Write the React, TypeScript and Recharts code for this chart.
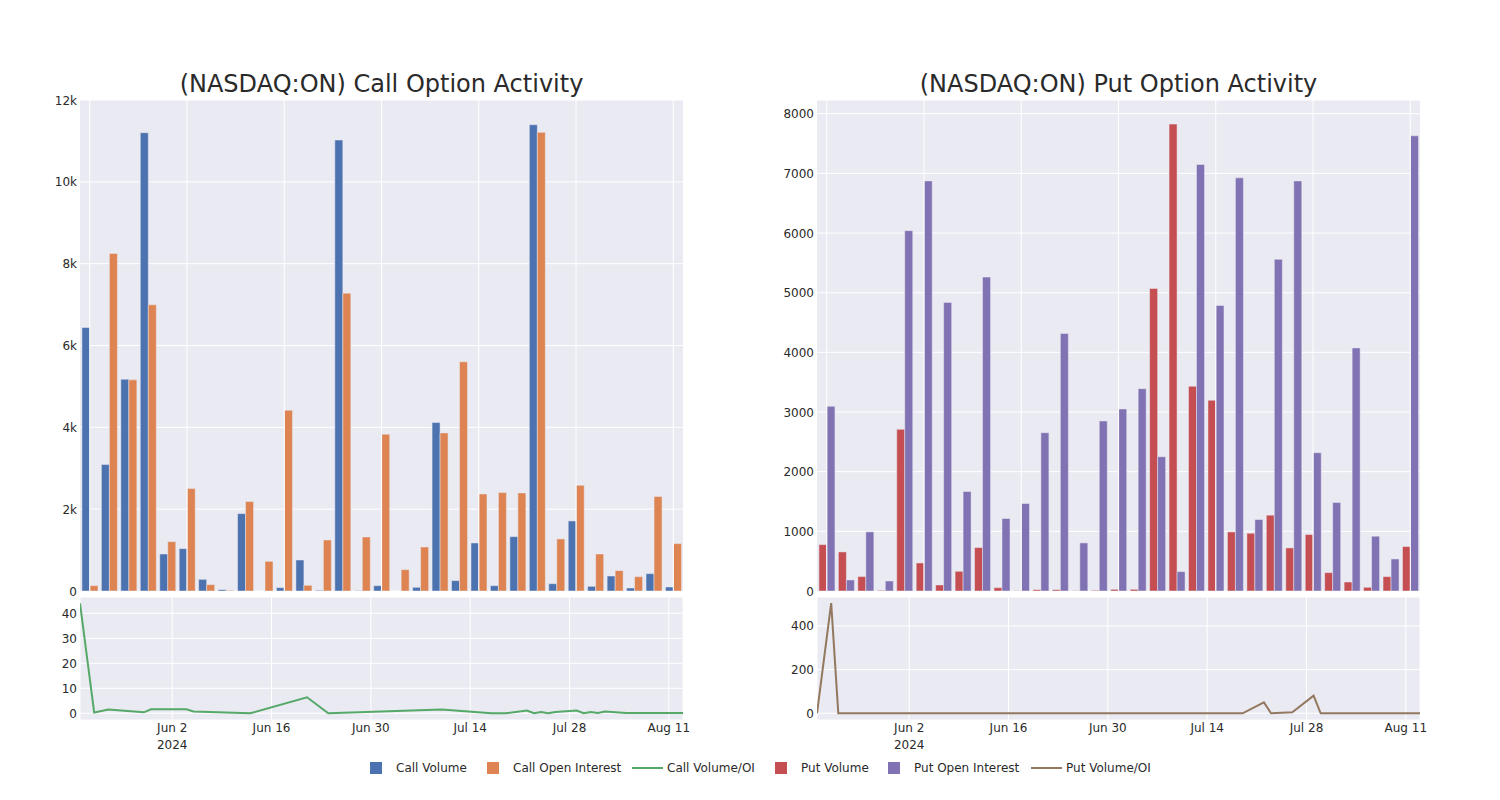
import React from "react"
import { BarChart, Bar, LineChart, Line, XAxis, YAxis, CartesianGrid, ReferenceLine } from "recharts"

const FONT = "'DejaVu Sans', Verdana, sans-serif"
const TEXT = "#2a2a2a"
const PLOT_BG = "#EAEAF2"

const BLUE = "#4C72B0"
const ORANGE = "#DD8452"
const GREEN = "#55A868"
const RED = "#C44E52"
const PURPLE = "#8172B3"
const BROWN = "#937860"

// trading days shown in the bar charts (category axis, labels hidden)
const dates = [
  "2024-05-20", "2024-05-22", "2024-05-23", "2024-05-24", "2024-05-28", "2024-05-29",
  "2024-05-30", "2024-06-04", "2024-06-05", "2024-06-12", "2024-06-13", "2024-06-21",
  "2024-06-24", "2024-07-10", "2024-07-11", "2024-07-12", "2024-07-17", "2024-07-19",
  "2024-07-22", "2024-07-23", "2024-07-24", "2024-07-25", "2024-07-26", "2024-07-29",
  "2024-07-30", "2024-07-31", "2024-08-01", "2024-08-02", "2024-08-05", "2024-08-09",
  "2024-08-13",
]

const callVolume = [
  6440, 3090, 5176, 11200, 905, 1035, 285, 33, 1891, 0, 82, 758, 16, 11021, 8, 130,
  0, 90, 4117, 253, 1174, 130, 1329, 11396, 179, 1712, 114, 367, 73, 424, 98,
]
const callOpenInterest = [
  130, 8250, 5160, 6994, 1206, 2503, 155, 16, 2185, 725, 4418, 139, 1247, 7280, 1320, 3831,
  522, 1076, 3864, 5600, 2372, 2405, 2397, 11209, 1272, 2584, 905, 497, 350, 2307, 1158,
]
const putVolume = [
  778, 655, 241, 11, 2710, 470, 101, 330, 728, 56, 4, 22, 22, 4, 11, 28,
  28, 5072, 7826, 3432, 3197, 991, 968, 1271, 722, 946, 308, 151, 62, 241, 745,
]
const putOpenInterest = [
  3096, 185, 991, 168, 6040, 6874, 4837, 1668, 5262, 1215, 1467, 2653, 4316, 806, 2850, 3051,
  3392, 2250, 325, 7149, 4786, 6925, 1198, 5559, 6874, 2318, 1483, 4075, 918, 537, 7630,
]

// volume / OI lines (vertices)
const callRatioDates = [
  "2024-05-20", "2024-05-22", "2024-05-24", "2024-05-29", "2024-05-30", "2024-06-04",
  "2024-06-05", "2024-06-13", "2024-06-21", "2024-06-24", "2024-07-10", "2024-07-17",
  "2024-07-19", "2024-07-22", "2024-07-23", "2024-07-24", "2024-07-25", "2024-07-26",
  "2024-07-29", "2024-07-30", "2024-07-31", "2024-08-01", "2024-08-02", "2024-08-05",
  "2024-08-13",
]
const callRatioValues = [
  44, 0.3, 1.5, 0.4, 1.6, 1.6, 0.7, 0, 6.4, 0, 1.5, 0, 0, 1.1, 0, 0.5, 0, 0.5,
  1.1, 0, 0.5, 0.1, 0.7, 0.1, 0.1,
]
const putRatioDates = [
  "2024-05-20", "2024-05-22", "2024-05-23", "2024-07-19", "2024-07-22", "2024-07-23",
  "2024-07-26", "2024-07-29", "2024-07-30", "2024-08-13",
]
const putRatioValues = [0, 504, 0, 0, 50, 0, 5, 81, 0, 0]

const xTickDates = ["2024-06-02", "2024-06-16", "2024-06-30", "2024-07-14", "2024-07-28", "2024-08-11"]
const xTickLabels = ["Jun 2", "Jun 16", "Jun 30", "Jul 14", "Jul 28", "Aug 11"]

const dayNum = (s: string) => Date.parse(s + "T00:00:00Z") / 86400000
const gridDates = dates.filter((_, i) => i % 5 === 0)
const xDomain = [dayNum(dates[0]), dayNum(dates[dates.length - 1])]
const xTicks = xTickDates.map(dayNum)

const callRows = dates.map((d, i) => ({ date: d, vol: callVolume[i], oi: callOpenInterest[i] }))
const putRows = dates.map((d, i) => ({ date: d, vol: putVolume[i], oi: putOpenInterest[i] }))
const callRatioRows = callRatioDates.map((d, i) => ({ day: dayNum(d), v: callRatioValues[i] }))
const putRatioRows = putRatioDates.map((d, i) => ({ day: dayNum(d), v: putRatioValues[i] }))

function YTick({ x, y, payload, fmt }: any) {
  return (
    <text x={x} y={y} dy={4.5} textAnchor="end" fill={TEXT} fontSize={12} fontFamily={FONT}>
      {fmt ? fmt(payload.value) : payload.value}
    </text>
  )
}

function DateTick({ x, y, payload }: any) {
  const i = xTicks.indexOf(payload.value)
  return (
    <text x={x} y={y + 12} textAnchor="middle" fill={TEXT} fontSize={12} fontFamily={FONT}>
      {xTickLabels[i]}
      {i === 0 && <tspan x={x} dy={17}>2024</tspan>}
    </text>
  )
}

function ActivityBars({ rows, volColor, oiColor, domain, ticks, fmt }: any) {
  return (
    <BarChart
      width={700}
      height={600}
      data={rows}
      margin={{ top: 100, right: 17, bottom: 9, left: 0 }}
      barCategoryGap="10%"
      barGap={0}
    >
      <CartesianGrid fill={PLOT_BG} stroke="#ffffff" strokeWidth={1} vertical={false} />
      <XAxis dataKey="date" tick={false} tickLine={false} axisLine={false} height={0} />
      <YAxis
        domain={domain}
        ticks={ticks}
        width={80}
        tickLine={false}
        axisLine={false}
        tickSize={0}
        tickMargin={3}
        tick={<YTick fmt={fmt} />}
        allowDataOverflow
      />
      {gridDates.map((d) => (
        <ReferenceLine key={d} x={d} stroke="#ffffff" strokeWidth={1} />
      ))}
      <Bar dataKey="vol" fill={volColor} stroke={PLOT_BG} strokeWidth={0.5} isAnimationActive={false} />
      <Bar dataKey="oi" fill={oiColor} stroke={PLOT_BG} strokeWidth={0.5} isAnimationActive={false} />
    </BarChart>
  )
}

function RatioLine({ rows, color, domain, ticks }: any) {
  return (
    <LineChart width={700} height={170} data={rows} margin={{ top: 7, right: 17, bottom: 0, left: 0 }}>
      <CartesianGrid fill={PLOT_BG} stroke="#ffffff" strokeWidth={1} />
      <XAxis
        dataKey="day"
        type="number"
        domain={xDomain}
        ticks={xTicks}
        interval={0}
        tick={<DateTick />}
        tickLine={false}
        axisLine={false}
        tickSize={0}
        tickMargin={0}
        height={40}
        allowDataOverflow
      />
      <YAxis
        domain={domain}
        ticks={ticks}
        width={80}
        tickLine={false}
        axisLine={false}
        tickSize={0}
        tickMargin={3}
        tick={<YTick />}
        allowDataOverflow
      />
      <Line type="linear" dataKey="v" stroke={color} strokeWidth={2} dot={false} isAnimationActive={false} />
    </LineChart>
  )
}

const legendItems = [
  { label: "Call Volume", color: BLUE, kind: "box", x: 370 },
  { label: "Call Open Interest", color: ORANGE, kind: "box", x: 487 },
  { label: "Call Volume/OI", color: GREEN, kind: "line", x: 632 },
  { label: "Put Volume", color: RED, kind: "box", x: 775 },
  { label: "Put Open Interest", color: PURPLE, kind: "box", x: 888 },
  { label: "Put Volume/OI", color: BROWN, kind: "line", x: 1031 },
]

export default function App() {
  const kFmt = (v: number) => (v === 0 ? "0" : `${v / 1000}k`)
  return (
    <div style={{ position: "absolute", left: 0, top: 0, width: 1500, height: 800, background: "#fff" }}>
      <div style={{ position: "absolute", left: 0, top: 0 }}>
        <ActivityBars
          rows={callRows}
          volColor={BLUE}
          oiColor={ORANGE}
          domain={[0, 12000]}
          ticks={[0, 2000, 4000, 6000, 8000, 10000, 12000]}
          fmt={kFmt}
        />
      </div>
      <div style={{ position: "absolute", left: 737, top: 0 }}>
        <ActivityBars
          rows={putRows}
          volColor={RED}
          oiColor={PURPLE}
          domain={[0, 8230]}
          ticks={[0, 1000, 2000, 3000, 4000, 5000, 6000, 7000, 8000]}
        />
      </div>
      <div style={{ position: "absolute", left: 0, top: 590 }}>
        <RatioLine rows={callRatioRows} color={GREEN} domain={[-2.68, 46.52]} ticks={[0, 10, 20, 30, 40]} />
      </div>
      <div style={{ position: "absolute", left: 737, top: 590 }}>
        <RatioLine rows={putRatioRows} color={BROWN} domain={[-30.7, 532.3]} ticks={[0, 200, 400]} />
      </div>
      <svg width={1500} height={800} style={{ position: "absolute", left: 0, top: 0, pointerEvents: "none" }}>
        <text x={381.5} y={92} textAnchor="middle" fontSize={24} fontFamily={FONT} fill={TEXT}>
          (NASDAQ:ON) Call Option Activity
        </text>
        <text x={1118.5} y={92} textAnchor="middle" fontSize={24} fontFamily={FONT} fill={TEXT}>
          (NASDAQ:ON) Put Option Activity
        </text>
        {legendItems.map((it) => (
          <g key={it.label}>
            {it.kind === "box" ? (
              <rect x={it.x} y={762} width={12} height={12} fill={it.color} />
            ) : (
              <line x1={it.x} x2={it.x + 31} y1={768} y2={768} stroke={it.color} strokeWidth={2} />
            )}
            <text x={it.kind === "box" ? it.x + 26 : it.x + 35} y={772} fontSize={12} fontFamily={FONT} fill={TEXT}>
              {it.label}
            </text>
          </g>
        ))}
      </svg>
    </div>
  )
}
